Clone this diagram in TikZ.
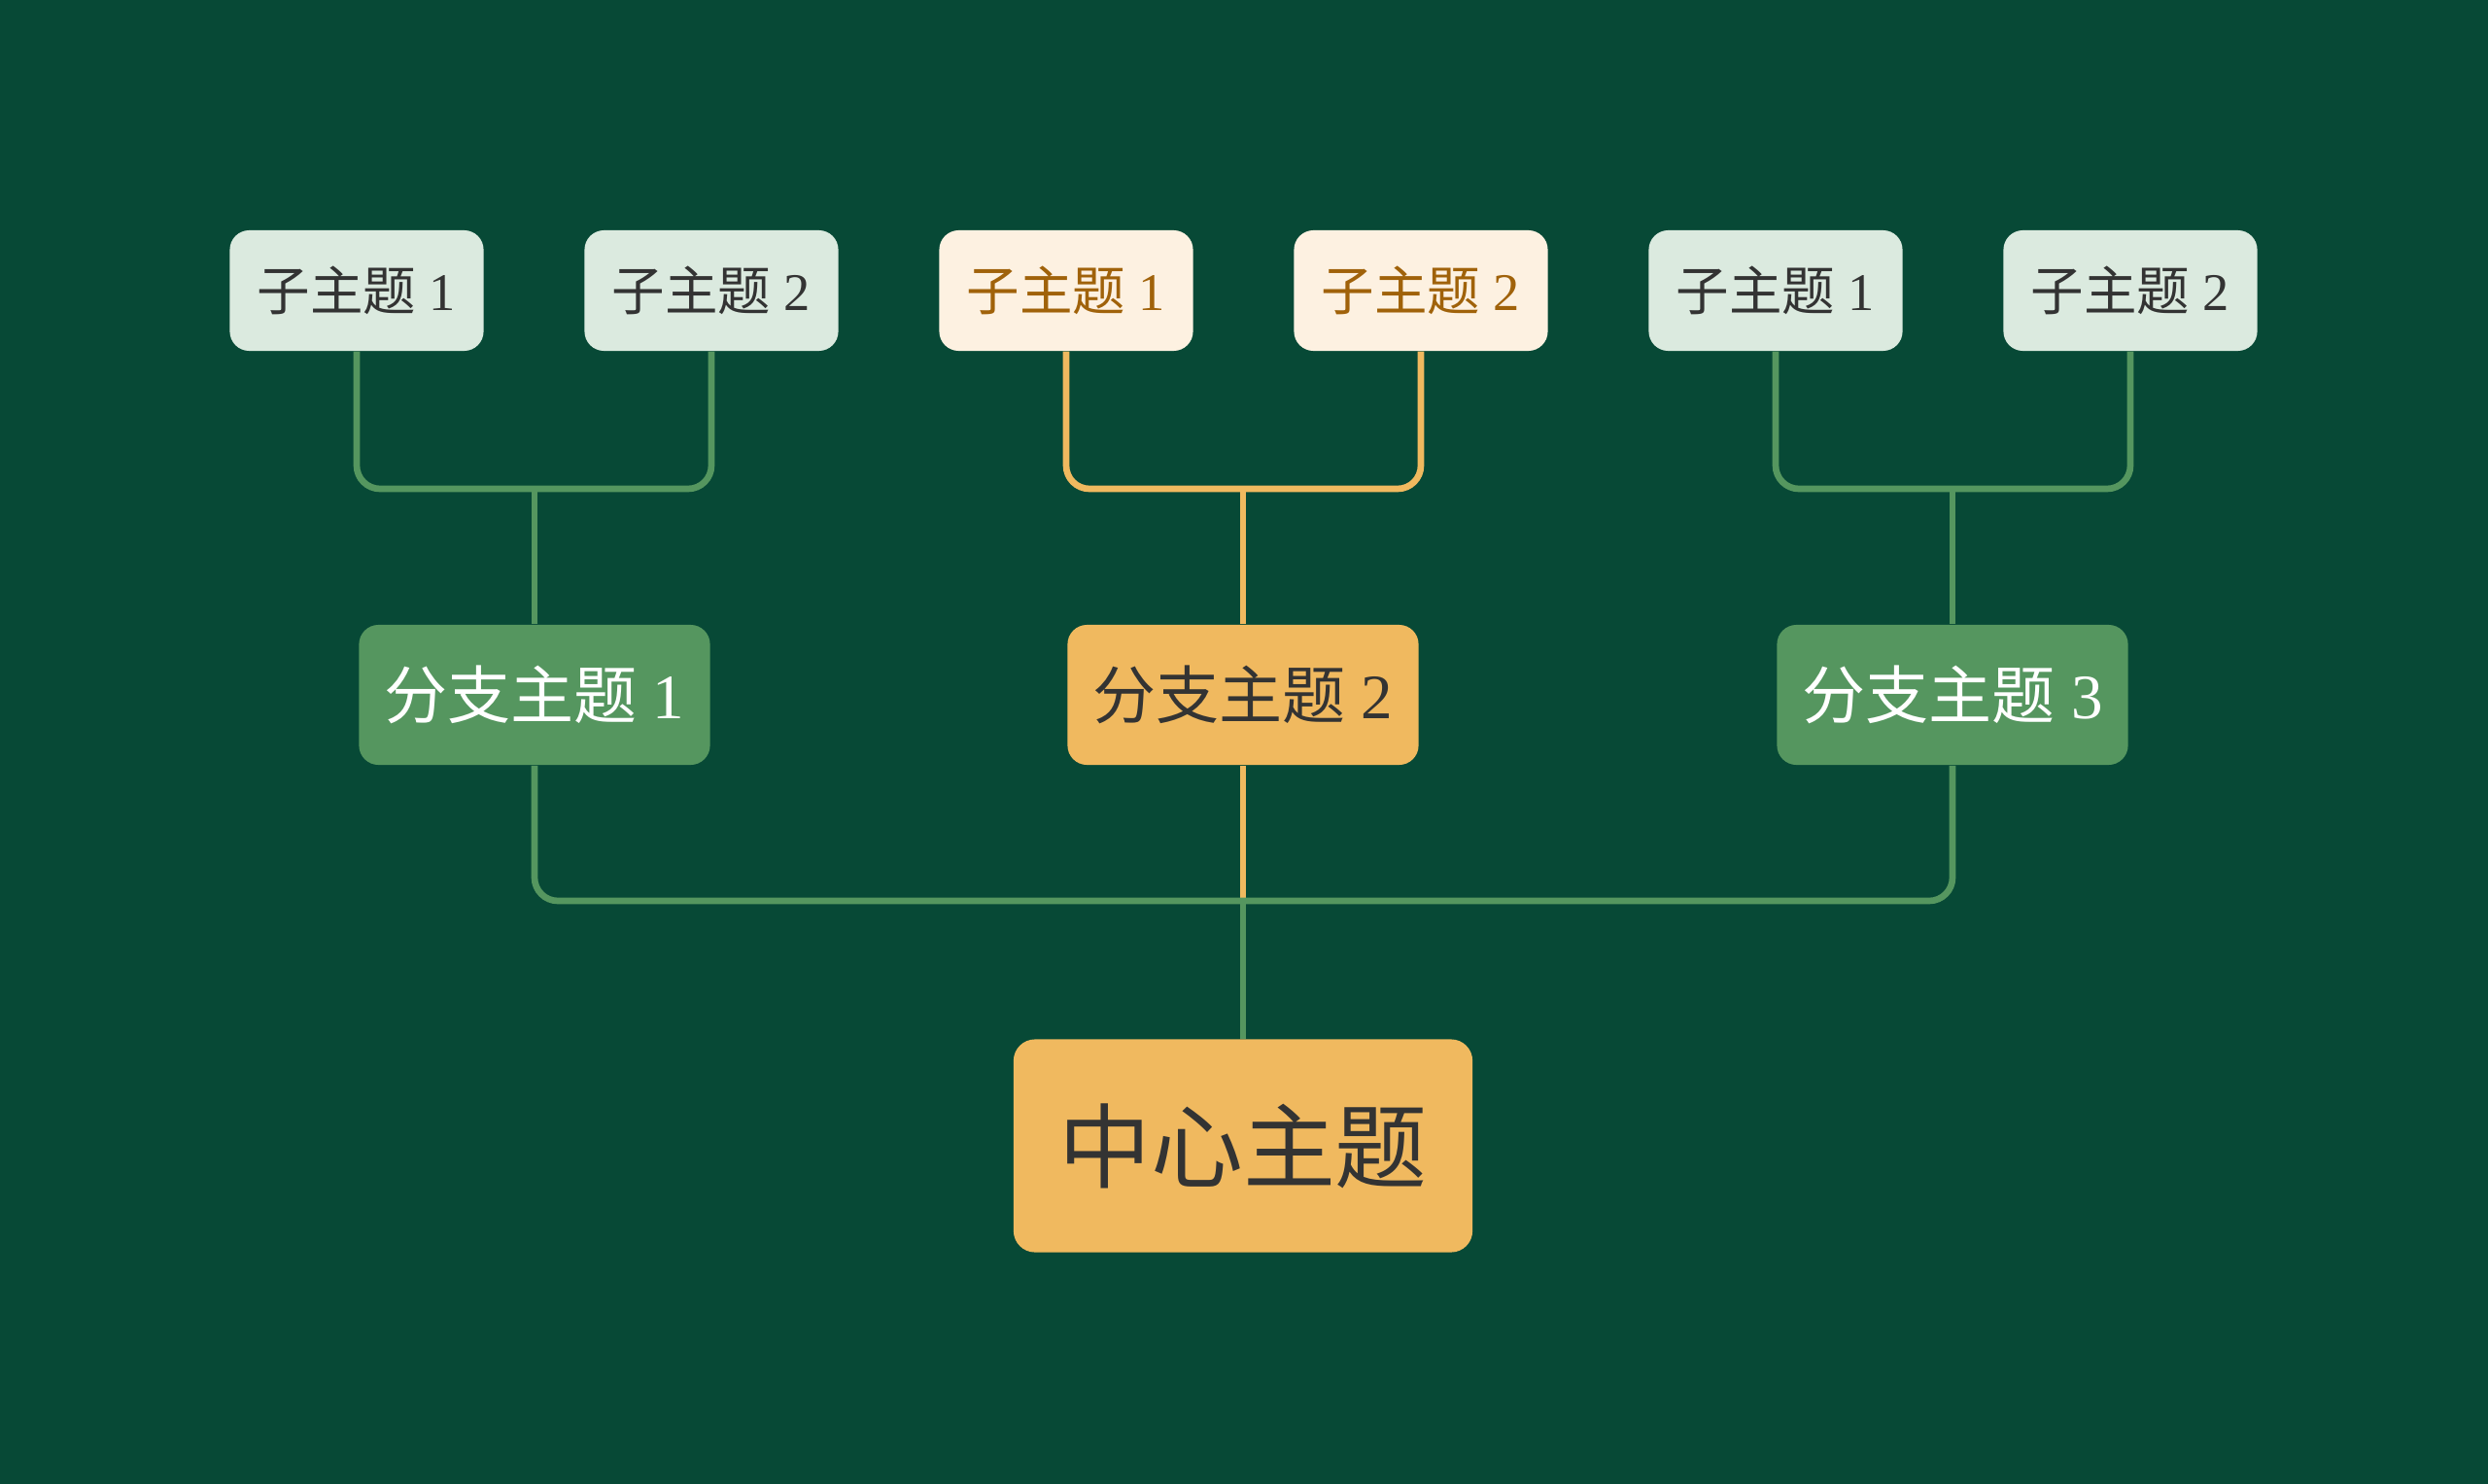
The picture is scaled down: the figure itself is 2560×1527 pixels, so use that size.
\documentclass[tikz,border=0pt]{standalone}
\usepackage{fontspec}
\setmainfont{Liberation Serif}
\newfontfamily\cjk{Noto Sans CJK SC}
\definecolor{bg}{HTML}{074936}
\definecolor{gline}{HTML}{55965F}
\definecolor{oline}{HTML}{F0B95F}
\definecolor{gsub}{HTML}{DBEADF}
\definecolor{osub}{HTML}{FDF1E1}
\definecolor{otext}{HTML}{A0620A}
\definecolor{dtext}{HTML}{333333}
\tikzset{
  subg/.style={fill=gsub, rounded corners=0.2cm, minimum width=2.61cm, minimum height=1.24cm, inner sep=0pt, text=dtext, font=\fontsize{15.5}{18}\selectfont},
  subo/.style={fill=osub, rounded corners=0.2cm, minimum width=2.61cm, minimum height=1.24cm, inner sep=0pt, text=otext, font=\fontsize{15.5}{18}\selectfont},
  brg/.style={fill=gline, rounded corners=0.2cm, minimum width=3.61cm, minimum height=1.44cm, inner sep=0pt, text=white, font=\fontsize{18.5}{22}\selectfont},
  bro/.style={fill=oline, rounded corners=0.2cm, minimum width=3.61cm, minimum height=1.44cm, inner sep=0pt, text=dtext, font=\fontsize{18.5}{22}\selectfont},
  ctr/.style={fill=oline, rounded corners=0.22cm, minimum width=4.72cm, minimum height=2.19cm, inner sep=0pt, text=dtext, font=\fontsize{27}{31}\selectfont},
  gconn/.style={draw=gline, line width=1.9pt, rounded corners=0.24cm},
  oconn/.style={draw=oline, line width=1.9pt, rounded corners=0.24cm}
}
\begin{document}
\begin{tikzpicture}[x=0.01cm, y=-0.01cm]
\fill[bg] (0,0) rectangle (2560,1527);
\useasboundingbox (0,0) rectangle (2560,1527);

% sub topics
\node[subg] (s1) at (367,299) {{\cjk 子主题} 1};
\node[subg] (s2) at (732,299) {{\cjk 子主题} 2};
\node[subo] (s3) at (1097,299) {{\cjk 子主题} 1};
\node[subo] (s4) at (1462,299) {{\cjk 子主题} 2};
\node[subg] (s5) at (1827,299) {{\cjk 子主题} 1};
\node[subg] (s6) at (2192,299) {{\cjk 子主题} 2};

% branches
\node[brg] (b1) at (550,715) {{\cjk 分支主题} 1};
\node[bro] (b2) at (1279,715) {{\cjk 分支主题} 2};
\node[brg] (b3) at (2009,715) {{\cjk 分支主题} 3};

% center
\node[ctr] (c) at (1279,1179) {\cjk 中心主题};

\coordinate (j1) at (550,503);
\coordinate (j2) at (1279,503);
\coordinate (j3) at (2009,503);
\coordinate (jc) at (1279,927);

% sub connectors
\draw[gconn] (s1.south) |- (j1) -| (s2.south);
\draw[gconn] (j1) -- (b1.north);
\draw[oconn] (s3.south) |- (j2) -| (s4.south);
\draw[oconn] (j2) -- (b2.north);
\draw[gconn] (s5.south) |- (j3) -| (s6.south);
\draw[gconn] (j3) -- (b3.north);

% main connectors
\draw[oconn] (b2.south) -- (jc);
\draw[gconn] (b1.south) |- (jc) -| (b3.south);
\draw[gconn] (jc) -- (c.north);
\end{tikzpicture}
\end{document}
